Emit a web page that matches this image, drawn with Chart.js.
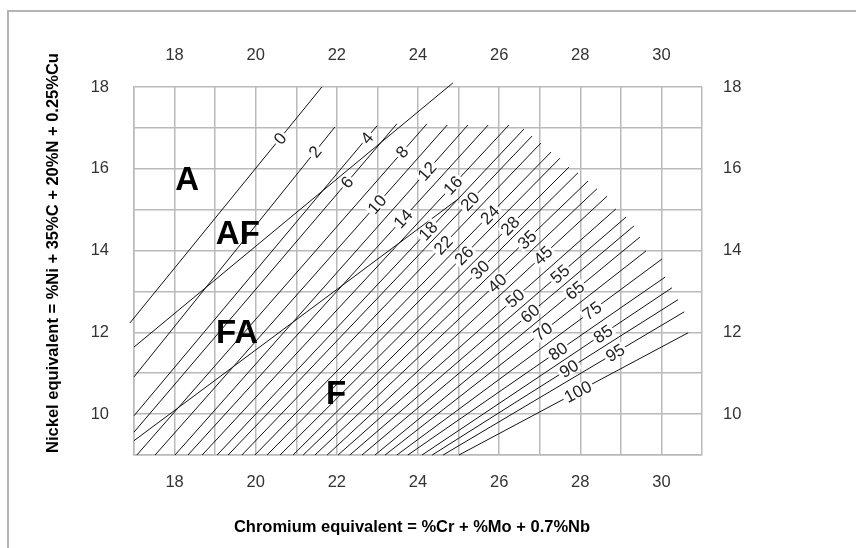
<!DOCTYPE html>
<html>
<head>
<meta charset="utf-8">
<title>WRC-1992 diagram</title>
<script src="https://cdn.jsdelivr.net/npm/chart.js@4.4.1/dist/chart.umd.min.js"></script>
<style>
  html, body { margin: 0; padding: 0; background: #fff; }
  #wrap { position: relative; width: 856px; height: 548px; overflow: hidden; }
  #frame { position: absolute; left: 7px; top: 10px; width: 900px; height: 600px;
           border-left: 2px solid #b4b4b4; border-top: 2px solid #b4b4b4; }
  canvas { position: absolute; left: 0; top: 0; }
</style>
</head>
<body>
<div id="wrap">
  <div id="frame"></div>
  <canvas id="chart" width="856" height="548"></canvas>
</div>
<script>
'use strict';

// ferrite number of each iso-FN line
const fnValues = [0, 2, 4, 6, 8, 10, 12, 14, 16, 18, 20, 22, 24, 26, 28, 30,
                  35, 40, 45, 50, 55, 60, 65, 70, 75, 80, 85, 90, 95, 100];

// lower end of each line (Cr eq, Ni eq)
const fnLowX = [16.90, 17.00, 17.00, 17.00, 17.07, 17.52, 18.01, 18.33, 18.68, 19.05,
                19.32, 19.66, 19.98, 20.28, 20.60, 20.92, 21.17, 21.46, 21.76, 22.03,
                22.32, 22.62, 22.94, 23.19, 23.48, 23.75, 24.10, 24.35, 24.62, 25.01];
const fnLowY = [12.23, 10.91, 9.96, 9.56, 9, 9, 9, 9, 9, 9,
                9, 9, 9, 9, 9, 9, 9, 9, 9, 9,
                9, 9, 9, 9, 9, 9, 9, 9, 9, 9];

// upper end of each line
const fnHighX = [21.63, 21.95, 22.99, 23.48, 24.22, 24.72, 25.23, 25.73, 26.24, 26.61,
                 26.81, 27.03, 27.28, 27.50, 27.72, 27.94, 28.19, 28.41, 28.66, 28.88,
                 29.13, 29.32, 29.47, 29.62, 30.01, 30.09, 30.26, 30.41, 30.56, 30.66];
const fnHighY = [18.00, 17.02, 17.05, 17.10, 17.10, 17.07, 17.07, 17.07, 17.07, 16.97,
                 16.80, 16.63, 16.41, 16.26, 16.04, 15.90, 15.70, 15.51, 15.33, 15.02,
                 14.82, 14.60, 14.33, 13.99, 13.79, 13.35, 13.09, 12.80, 12.50, 11.99];

// Cr eq where the FN number is written on its line
const fnLabelX = [20.60, 21.46, 22.74, 22.25, 23.61, 22.99, 24.22, 23.63, 24.86, 24.25,
                  25.28, 24.62, 25.77, 25.13, 26.27, 25.53, 26.69, 25.95, 27.08, 26.39,
                  27.50, 26.76, 27.87, 27.08, 28.29, 27.45, 28.56, 27.72, 28.86, 27.94];

// solidification mode boundaries (AF|FA and FA|F)
const boundaryLowX = [17.00, 17.00];
const boundaryLowY = [11.64, 9.35];
const boundaryHighX = [24.86, 24.99];
const boundaryHighY = [18.10, 15.26];

const regionNames = ['A', 'AF', 'FA', 'F'];
const regionX = [18.31, 19.56, 19.54, 21.98];
const regionY = [15.73, 14.41, 11.99, 10.49];

const xTickLabels = [18, 20, 22, 24, 26, 28, 30];
const yTickLabels = [10, 12, 14, 16, 18];

const xTitle = 'Chromium equivalent = %Cr + %Mo + 0.7%Nb';
const yTitle = 'Nickel equivalent = %Ni + 35%C + 20%N + 0.25%Cu';

const FONT = '"Liberation Sans", Arial, Helvetica, sans-serif';
const GRID = '#bababa';

const lineStyle = {
  showLine: true,
  borderColor: '#111',
  borderWidth: 1,
  pointRadius: 0,
  fill: false,
  clip: false
};

const datasets = fnValues.map((fn, i) => Object.assign({
  label: 'FN ' + fn,
  data: [{ x: fnLowX[i], y: fnLowY[i] }, { x: fnHighX[i], y: fnHighY[i] }]
}, lineStyle));

boundaryLowX.forEach((_, i) => {
  datasets.push(Object.assign({
    label: 'boundary ' + i,
    data: [{ x: boundaryLowX[i], y: boundaryLowY[i] }, { x: boundaryHighX[i], y: boundaryHighY[i] }]
  }, lineStyle));
});

// FN numbers written along the lines, region letters and axis titles
const annotate = {
  id: 'annotate',
  afterDatasetsDraw(chart) {
    const ctx = chart.ctx;
    const sx = chart.scales.x, sy = chart.scales.y;

    ctx.save();
    ctx.font = '17px ' + FONT;
    ctx.textAlign = 'center';
    ctx.textBaseline = 'middle';
    fnValues.forEach((fn, i) => {
      const pts = chart.getDatasetMeta(i).data;
      const a = pts[0], b = pts[1];
      const ang = Math.atan2(b.y - a.y, b.x - a.x);
      const px = sx.getPixelForValue(fnLabelX[i]);
      const t = (px - a.x) / (b.x - a.x);
      const py = a.y + t * (b.y - a.y);
      const txt = String(fn);
      const w = ctx.measureText(txt).width + 4;
      ctx.save();
      ctx.translate(px, py);
      ctx.rotate(ang);
      ctx.fillStyle = '#fff';
      ctx.fillRect(-w / 2, -6.5, w, 13);
      ctx.fillStyle = '#222';
      ctx.fillText(txt, 0, 1);
      ctx.restore();
    });

    ctx.font = 'bold 33px ' + FONT;
    ctx.fillStyle = '#000';
    regionNames.forEach((name, i) => {
      ctx.fillText(name, sx.getPixelForValue(regionX[i]), sy.getPixelForValue(regionY[i]) + 1);
    });
    ctx.restore();
  },
  afterDraw(chart) {
    const ctx = chart.ctx;
    ctx.save();
    ctx.font = 'bold 16.5px ' + FONT;
    ctx.fillStyle = '#000';
    ctx.textAlign = 'center';
    ctx.textBaseline = 'middle';
    ctx.fillText(xTitle, 412, 527);
    ctx.translate(53, 253);
    ctx.rotate(-Math.PI / 2);
    ctx.fillText(yTitle, 0, 0);
    ctx.restore();
  }
};

const tickFont = { family: FONT, size: 16.5 };

const fixSize = (w, h) => (scale) => {
  if (w !== null) scale.width = w;
  if (h !== null) scale.height = h;
};

new Chart(document.getElementById('chart'), {
  type: 'scatter',
  data: { datasets: datasets },
  options: {
    responsive: false,
    animation: false,
    devicePixelRatio: 1,
    layout: { padding: 0 },
    plugins: { legend: { display: false }, tooltip: { enabled: false } },
    scales: {
      x: {
        type: 'linear', position: 'bottom', min: 17, max: 31,
        afterFit: fixSize(null, 93),
        grid: { color: GRID, lineWidth: 1.5, drawTicks: false },
        border: { color: GRID, width: 1.5 },
        ticks: {
          stepSize: 1, autoSkip: false, maxRotation: 0, padding: 18,
          color: '#333', font: tickFont,
          callback: v => xTickLabels.includes(v) ? String(v) : ''
        }
      },
      x2: {
        type: 'linear', position: 'top', min: 17, max: 31,
        afterFit: fixSize(null, 87),
        grid: { display: false, drawTicks: false },
        border: { display: false },
        ticks: {
          stepSize: 1, autoSkip: false, maxRotation: 0, padding: 22,
          color: '#333', font: tickFont,
          callback: v => xTickLabels.includes(v) ? String(v) : ''
        }
      },
      y: {
        type: 'linear', position: 'left', min: 9, max: 18,
        afterFit: fixSize(134, null),
        grid: { color: GRID, lineWidth: 1.5, drawTicks: false },
        border: { color: GRID, width: 1.5 },
        ticks: {
          stepSize: 1, autoSkip: false, padding: 25,
          color: '#333', font: tickFont,
          callback: v => yTickLabels.includes(v) ? String(v) : ''
        }
      },
      y2: {
        type: 'linear', position: 'right', min: 9, max: 18,
        afterFit: fixSize(154, null),
        grid: { display: false, drawTicks: false },
        border: { display: false },
        ticks: {
          stepSize: 1, autoSkip: false, padding: 21,
          color: '#333', font: tickFont,
          callback: v => yTickLabels.includes(v) ? String(v) : ''
        }
      }
    }
  },
  plugins: [annotate]
});
</script>
</body>
</html>
